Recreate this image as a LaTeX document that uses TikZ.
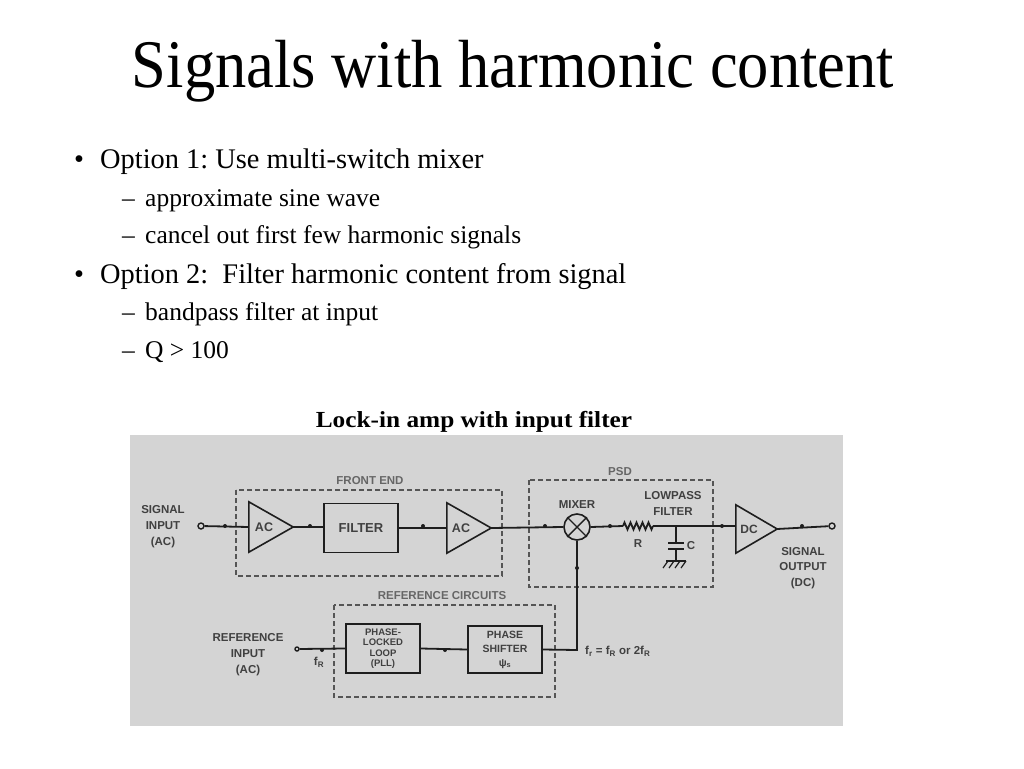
\documentclass[tikz,border=0pt]{standalone}
\usepackage{fontspec}
\setmainfont{Liberation Serif}
\setsansfont{Liberation Sans}
\usetikzlibrary{decorations.pathmorphing,calc}
\definecolor{panel}{RGB}{212,212,212}
\definecolor{ink}{RGB}{30,30,30}
\definecolor{dashink}{RGB}{85,85,85}
\frenchspacing
\begin{document}
\begin{tikzpicture}[x=1pt,y=-1pt,
  lab/.style={font=\sffamily\bfseries\fontsize{11.5}{16}\selectfont, text=ink!85, align=center, inner sep=0pt},
  glab/.style={font=\sffamily\bfseries\fontsize{11.5}{13}\selectfont, text=dashink!90, align=center, inner sep=0pt},
  blk/.style={draw=ink, line width=1.8pt, inner sep=0pt, align=center, text=ink!85, font=\sffamily\bfseries\fontsize{13}{15}\selectfont},
  ampbox/.style={inner sep=0pt, minimum width=44pt, minimum height=50pt},
  ampl/.style={draw=ink, line width=1.6pt, line join=miter},
  wire/.style={draw=ink, line width=1.8pt},
  jdot/.style={circle, fill=ink, inner sep=0pt, minimum size=4pt},
  term/.style={circle, draw=ink, fill=panel, line width=1.4pt, inner sep=0pt, minimum size=6pt},
  grp/.style={draw=dashink, line width=1.2pt, dash pattern=on 5pt off 3pt},
  bul/.style={anchor=base west, inner sep=0pt, font=\fontsize{28.4}{30}\selectfont},
  sub/.style={anchor=base west, inner sep=0pt, font=\fontsize{25.5}{27}\selectfont},
]
\useasboundingbox (0,0) rectangle (1024,768);
\fill[white] (0,0) rectangle (1024,768);

% title and bullets
\node[anchor=base, inner sep=0pt, font=\fontsize{62.5}{64}\selectfont] (title) at (513,87) {\scalebox{1}[1.09]{Signals with harmonic content}};
\node[bul] (b1) at (74,168) {\textbullet};
\node[bul] (t1) at (100,168) {Option 1: Use multi-switch mixer};
\node[sub] (d1) at (122,206) {–};
\node[sub] (t11) at (145,206) {approximate sine wave};
\node[sub] (d2) at (122,243) {–};
\node[sub] (t12) at (145,243) {cancel out first few harmonic signals};
\node[bul] (b2) at (74,283) {\textbullet};
\node[bul] (t2) at (100,283) {Option 2:\ \ Filter harmonic content from signal};
\node[sub] (d3) at (122,320) {–};
\node[sub] (t21) at (145,320) {bandpass filter at input};
\node[sub] (d4) at (122,358) {–};
\node[sub] (t22) at (145,358) {Q > 100};
\node[anchor=base, inner sep=0pt, font=\bfseries\fontsize{23}{25}\selectfont] (cap) at (474,427) {\scalebox{1.1}[1]{Lock-in amp with input filter}};

% panel
\fill[panel] (130,435) rectangle (843,726);

% group boxes
\draw[grp] (236,490) rectangle (502,576);
\node[glab] (fe) at (370,481) {FRONT END};
\draw[grp] (529,480) rectangle (713,587);
\node[glab] (psd) at (620,472) {PSD};
\draw[grp] (334,605) rectangle (555,697);
\node[glab] (rc) at (442,596) {REFERENCE CIRCUITS};

% signal path nodes
\node[term] (sin) at (201,526) {};
\node[lab] (sinl) at (163,527) {SIGNAL\\INPUT\\(AC)};
\node[jdot] (j1) at (225,526) {};
\node[ampbox] (ac1) at (271,527) {};
\node[lab, font=\sffamily\bfseries\fontsize{12.5}{14}\selectfont] at (264,527) {AC};
\node[jdot] (j2) at (310,526) {};
\node[blk, minimum width=74pt, minimum height=49pt] (filt) at (361,528) {FILTER};
\node[jdot] (j3) at (423,526) {};
\node[ampbox] (ac2) at (469,528) {};
\node[lab, font=\sffamily\bfseries\fontsize{12.5}{14}\selectfont] at (461,528) {AC};
\node[jdot] (j4) at (545,526) {};
\node[circle, draw=ink, line width=1.6pt, minimum size=26pt, inner sep=0pt] (mix) at (577,527) {};
\node[lab] (mixl) at (577,505) {MIXER};
\node[jdot] (j5) at (610,526) {};
\coordinate (r1) at (623,526);
\coordinate (r2) at (653,526);
\node[lab] (rl) at (638,544) {R};
\node[lab] (lpl) at (673,503) {LOWPASS\\FILTER};
\coordinate (cj) at (676,526);
\coordinate (cp1) at (676,543);
\coordinate (cp2) at (676,549);
\coordinate (gnd) at (676,561);
\node[lab] (cl) at (691,546) {C};
\node[jdot] (j6) at (722,526) {};
\node[inner sep=0pt, minimum width=41pt, minimum height=48pt] (dc) at (756.5,529) {};
\node[lab, font=\sffamily\bfseries\fontsize{12}{14}\selectfont] at (749,529) {DC};
\node[jdot] (j7) at (802,526) {};
\node[term] (sout) at (832,526) {};
\node[lab, font=\sffamily\bfseries\fontsize{11.5}{15.5}\selectfont] (soutl) at (803,568) {SIGNAL\\OUTPUT\\(DC)};

% amplifier triangles
\draw[ampl] (ac1.north west) -- (ac1.east) -- (ac1.south west) -- cycle;
\draw[ampl] (ac2.north west) -- (ac2.east) -- (ac2.south west) -- cycle;
\draw[ampl] (dc.north west) -- (dc.east) -- (dc.south west) -- cycle;
% mixer cross
\draw[ink, line width=1.4pt] (mix.north west) -- (mix.south east) (mix.north east) -- (mix.south west);

% reference path nodes
\node[lab] (refl) at (248,655) {REFERENCE\\INPUT\\(AC)};
\node[term, minimum size=4pt] (rin) at (297,649) {};
\node[jdot] (j8) at (322,650) {};
\node[lab] (frl) at (319,662) {f\textsubscript{R}};
\node[blk, minimum width=74pt, minimum height=49pt, font=\sffamily\bfseries\fontsize{9.5}{10.5}\selectfont] (pll) at (383,648.5) {PHASE-\\LOCKED\\LOOP\\(PLL)};
\node[jdot] (j9) at (445,650) {};
\node[blk, minimum width=74pt, minimum height=47pt, font=\sffamily\bfseries\fontsize{10.5}{14}\selectfont] (ps) at (505,649.5) {PHASE\\SHIFTER\\ψ\textsubscript{s}};
\coordinate (corner) at (577,650);
\node[jdot] (j10) at (577,568) {};
\node[lab, anchor=west, font=\sffamily\bfseries\fontsize{11.5}{13}\selectfont] (fr) at (585,651) {f\textsubscript{r} = f\textsubscript{R}\ or 2f\textsubscript{R}};

% wires
\draw[wire] (sin) -- (ac1.west);
\draw[wire] (ac1.east) -- (filt.west |- ac1.east);
\draw[wire] (filt.east |- ac2.west) -- (ac2.west);
\draw[wire] (ac2.east) -- (mix.west);
\draw[wire] (mix.east) -- (r1);
\draw[wire, decorate, decoration={zigzag, segment length=6pt, amplitude=3.5pt}] (r1) -- (r2);
\draw[wire] (r2) -- (dc.west |- r2);
\draw[wire] (dc.east) -- (sout);
\draw[wire] (cj) -- (cp1);
\draw[wire] ($(cp1)+(-8,0)$) -- ($(cp1)+(8,0)$);
\draw[wire] ($(cp2)+(-8,0)$) -- ($(cp2)+(8,0)$);
\draw[wire] (cp2) -- (gnd);
\draw[ink, line width=1.4pt] ($(gnd)+(-10,0)$) -- ($(gnd)+(10,0)$);
\foreach \dx in {-8,-2,4,10} \draw[ink, line width=1.2pt] ($(gnd)+(\dx,0)$) -- ++(-5,7);
\draw[wire] (rin) -- (pll.west);
\draw[wire] (pll.east) -- (ps.west);
\draw[wire] (ps.east) -- (corner) -- (mix.south);
\end{tikzpicture}
\end{document}
